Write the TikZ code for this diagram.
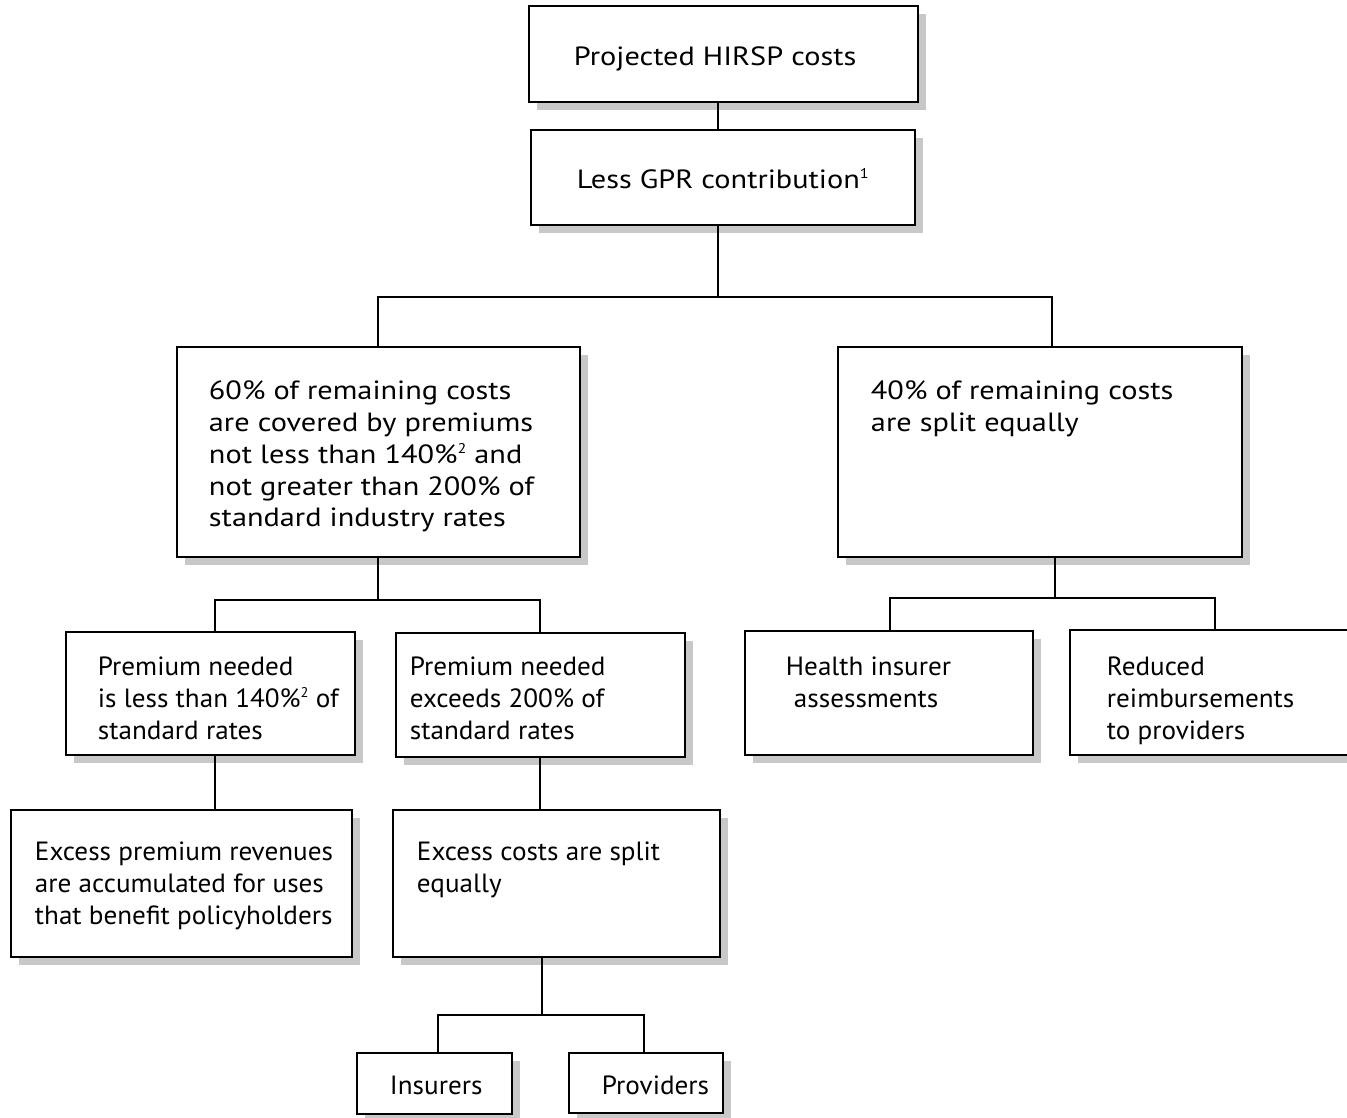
\documentclass[tikz,border=0pt]{standalone}
\usepackage{fontspec}
\setmainfont{PT Sans}[FakeStretch=1.03]
\newfontfamily\widefont{PT Sans}[FakeStretch=1.15]
\usetikzlibrary{shadows}
\definecolor{shadowgray}{RGB}{200,200,200}
\tikzset{
  box/.style={draw, line width=1.3pt, fill=white, inner sep=0pt,
    drop shadow={shadow xshift=0.16cm, shadow yshift=-0.16cm, fill=shadowgray, opacity=1}},
  txt/.style={anchor=north west, align=left, inner sep=0pt, font=\fontsize{15pt}{18.1pt}\selectfont},
  widetxt/.style={txt, font=\fontsize{15pt}{18.1pt}\widefont}
}
\newcommand{\fn}[1]{\smash{\raisebox{0.75ex}{\fontsize{8pt}{8pt}\selectfont #1}}}

\begin{document}
\begin{tikzpicture}[x=0.02cm, y=-0.02cm, line width=1.1pt]
\useasboundingbox (0,0) rectangle (1347,1117);

% boxes
\node[box, minimum width=7.78cm, minimum height=1.92cm] (proj) at (723.5,54) {};
\node[box, minimum width=7.68cm, minimum height=1.90cm] (gpr) at (723,177.5) {};
\node[box, minimum width=8.06cm, minimum height=4.20cm] (sixty) at (378.5,452) {};
\node[box, minimum width=8.08cm, minimum height=4.20cm] (forty) at (1040,452) {};
\node[box, minimum width=5.78cm, minimum height=2.46cm] (below) at (210.5,693.5) {};
\node[box, minimum width=5.78cm, minimum height=2.48cm] (above) at (540.5,695) {};
\node[box, minimum width=5.76cm, minimum height=2.48cm] (health) at (889,693) {};
\node[box, minimum width=5.80cm, minimum height=2.50cm] (reduced) at (1215,692.5) {};
\node[box, minimum width=6.82cm, minimum height=2.94cm] (accum) at (181.4,883.5) {};
\node[box, minimum width=6.54cm, minimum height=2.94cm] (split) at (556.5,883.5) {};
\node[box, minimum width=3.10cm, minimum height=1.22cm] (insurers) at (434.5,1083.5) {};
\node[box, minimum width=3.08cm, minimum height=1.20cm] (providers) at (646,1083) {};

% texts
\node[widetxt] (projtxt) at (573,46) {Projected HIRSP costs};
\node[widetxt] (gprtxt) at (576,169) {Less GPR contribution\fn{1}};
\node[widetxt] (sixtytxt) at (208,380) {60\% of remaining costs\\are covered by premiums\\not less than 140\%\fn{2} and\\not greater than 200\% of\\standard industry rates};
\node[widetxt] (fortytxt) at (870,380) {40\% of remaining costs\\are split equally};
\node[txt] (belowtxt) at (97,656) {Premium needed\\is less than 140\%\fn{2} of\\standard rates};
\node[txt] (abovetxt) at (409,656) {Premium needed\\exceeds 200\% of\\standard rates};
\node[txt] (healthtxt) at (785,656) {Health insurer\\\hspace{0.16cm}assessments};
\node[txt] (reducedtxt) at (1106,656) {Reduced\\reimbursements\\to providers};
\node[txt] (accumtxt) at (34,841) {Excess premium revenues\\are accumulated for uses\\that benefit policyholders};
\node[txt] (splittxt) at (416,841) {Excess costs are split\\equally};
\node[txt] (insurerstxt) at (389,1075) {Insurers};
\node[txt] (providerstxt) at (601,1075) {Providers};

% connectors
\coordinate (b1l) at (378,297);
\coordinate (b1r) at (1052,297);
\coordinate (b2l) at (215,600);
\coordinate (b2r) at (540,600);
\coordinate (b3l) at (890,598);
\coordinate (b3r) at (1215,598);
\coordinate (b4l) at (438,1015);
\coordinate (b4r) at (644,1015);

\draw (proj.south -| 718,0) -- (gpr.north -| 718,0);
\draw (gpr.south -| 718,0) -- (718,297);
\draw (sixty.north -| b1l) -- (b1l) -- (b1r) -- (forty.north -| b1r);

\draw (sixty.south -| b1l) -- (b1l |- b2l);
\draw (below.north -| b2l) -- (b2l) -- (b2r) -- (above.north -| b2r);

\draw (forty.south -| 1055,0) -- (1055,598);
\draw (health.north -| b3l) -- (b3l) -- (b3r) -- (reduced.north -| b3r);

\draw (below.south -| b2l) -- (accum.north -| b2l);
\draw (above.south -| b2r) -- (split.north -| b2r);

\draw (split.south -| 542,0) -- (542,1015);
\draw (insurers.north -| b4l) -- (b4l) -- (b4r) -- (providers.north -| b4r);

\end{tikzpicture}
\end{document}
